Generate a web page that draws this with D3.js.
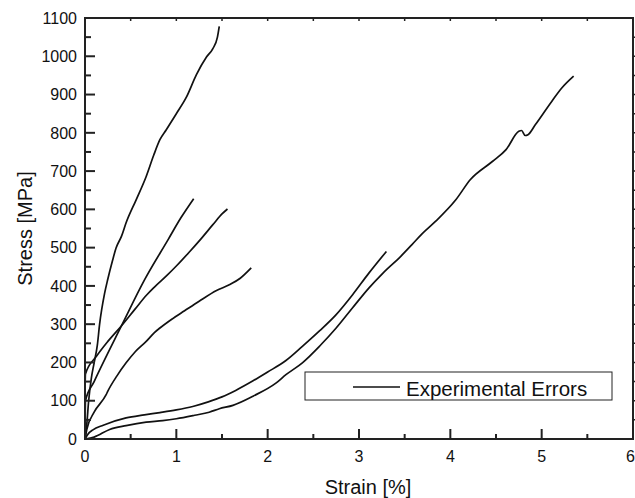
<!DOCTYPE html>
<html>
<head>
<meta charset="utf-8">
<script src="https://cdn.jsdelivr.net/npm/d3@7"></script>
<style>
  html, body { margin: 0; padding: 0; background: #fff; }
  svg { display: block; }
  text { font-family: "Liberation Sans", Arial, sans-serif; fill: #111; }
</style>
</head>
<body>
<svg id="chart" width="635" height="498"></svg>
<script>
// ---- data (strain %, stress MPa) ----
const xTicks = [0, 1, 2, 3, 4, 5, 6];
const yTicks = [0, 100, 200, 300, 400, 500, 600, 700, 800, 900, 1000, 1100];
const legendLabel = "Experimental Errors";
const xLabel = "Strain [%]";
const yLabel = "Stress [MPa]";

const curveA = [[0,0],[0.02,40],[0.04,100],[0.07,160],[0.10,199],[0.135,245],[0.16,300],[0.215,381],[0.25,418],[0.30,465],[0.34,499],[0.40,530],[0.45,565],[0.56,625],[0.67,686],[0.75,740],[0.82,782],[0.89,808],[1.0,850],[1.11,893],[1.22,952],[1.33,998],[1.40,1020],[1.45,1050],[1.47,1078]];
const curveB = [[0,0],[0.005,100],[0.1,150],[0.4,296],[0.65,415],[0.91,521],[1.05,578],[1.19,628]];
const curveC = [[0,120],[0.005,170],[0.125,216],[0.25,255],[0.40,296],[0.55,340],[0.67,375],[0.76,397],[0.9,428],[1.0,452],[1.14,488],[1.27,523],[1.40,560],[1.50,588],[1.56,601]];
const curveD = [[0,0],[0.02,25],[0.1,70],[0.23,115],[0.25,125],[0.35,165],[0.45,199],[0.55,228],[0.67,255],[0.76,278],[0.82,290],[0.95,313],[1.09,335],[1.25,360],[1.44,388],[1.58,403],[1.70,420],[1.82,447]];
const curveE = [[0,0],[0.03,12],[0.087,24],[0.2,36],[0.45,55],[0.65,63],[0.82,69],[1.0,76],[1.18,85],[1.35,97],[1.5,110],[1.65,127],[1.84,152],[2.0,175],[2.2,205],[2.38,242],[2.57,283],[2.75,325],[2.93,377],[3.11,434],[3.30,490]];
const curveF = [[0,0],[0.1,5],[0.27,25],[0.45,35],[0.67,44],[0.85,48],[1.0,53],[1.2,62],[1.36,70],[1.47,79],[1.62,88],[1.84,112],[2.09,146],[2.2,168],[2.38,199],[2.57,243],[2.75,290],[2.93,343],[3.11,395],[3.26,433],[3.46,478],[3.58,508],[3.69,536],[3.84,569],[4.06,625],[4.22,678],[4.46,725],[4.61,756],[4.75,804],[4.78,806],[4.82,793],[4.85,795],[4.93,821],[5.11,882],[5.22,917],[5.35,948]];
const curves = [curveA, curveB, curveC, curveD, curveE, curveF];

// ---- layout ----
const L = 85, R = 633, T = 18, B = 439;
const svg = d3.select("#chart");
const x = d3.scaleLinear().domain([0, 6]).range([L, R]);
const y = d3.scaleLinear().domain([0, 1100]).range([B, T]);

const line = d3.line().x(d => x(d[0])).y(d => y(d[1])).curve(d3.curveMonotoneX);

// curves
svg.append("g").selectAll("path").data(curves).join("path")
  .attr("d", line)
  .attr("fill", "none")
  .attr("stroke", "#111")
  .attr("stroke-width", 1.7)
  .attr("stroke-linejoin", "round");

// frame
svg.append("rect")
  .attr("x", L).attr("y", T).attr("width", R - L).attr("height", B - T)
  .attr("fill", "none").attr("stroke", "#222").attr("stroke-width", 2);

const tickColor = "#222";
// bottom axis: inward ticks
const xMinor = d3.range(0.5, 6, 1);
const gB = svg.append("g");
gB.selectAll("line.maj").data(xTicks).join("line")
  .attr("x1", d => x(d)).attr("x2", d => x(d))
  .attr("y1", B).attr("y2", B - 10)
  .attr("stroke", tickColor).attr("stroke-width", 2);
gB.selectAll("line.min").data(xMinor).join("line")
  .attr("x1", d => x(d)).attr("x2", d => x(d))
  .attr("y1", B).attr("y2", B - 5)
  .attr("stroke", tickColor).attr("stroke-width", 2);
gB.selectAll("text").data(xTicks).join("text")
  .attr("x", d => d === 6 ? 635 : x(d)).attr("y", 462)
  .attr("text-anchor", d => d === 6 ? "end" : "middle")
  .attr("font-size", "16px")
  .text(d => d);

// left axis
const yMinor = d3.range(50, 1100, 100);
const gL = svg.append("g");
gL.selectAll("line.maj").data(yTicks).join("line")
  .attr("x1", L).attr("x2", L + 10)
  .attr("y1", d => y(d)).attr("y2", d => y(d))
  .attr("stroke", tickColor).attr("stroke-width", 2);
gL.selectAll("line.min").data(yMinor).join("line")
  .attr("x1", L).attr("x2", L + 6)
  .attr("y1", d => y(d)).attr("y2", d => y(d))
  .attr("stroke", tickColor).attr("stroke-width", 2);
gL.selectAll("text").data(yTicks).join("text")
  .attr("x", 77).attr("y", d => y(d))
  .attr("dy", "0.36em")
  .attr("text-anchor", "end")
  .attr("font-size", "16px")
  .text(d => d);

// top axis small ticks
const xAll = d3.range(0.5, 6, 0.5);
svg.append("g").selectAll("line").data(xAll).join("line")
  .attr("x1", d => x(d)).attr("x2", d => x(d))
  .attr("y1", T).attr("y2", T + 3)
  .attr("stroke", tickColor).attr("stroke-width", 1.5);

// right axis small ticks (outward)
const yAll = d3.range(50, 1100, 50);
svg.append("g").selectAll("line").data(yAll).join("line")
  .attr("x1", R).attr("x2", R + 3)
  .attr("y1", d => y(d)).attr("y2", d => y(d))
  .attr("stroke", tickColor).attr("stroke-width", 1.5);

// axis titles
svg.append("text")
  .attr("x", 368).attr("y", 494)
  .attr("text-anchor", "middle")
  .attr("font-size", "20px")
  .text(xLabel);
svg.append("text")
  .attr("transform", `translate(32,${(T + B) / 2}) rotate(-90)`)
  .attr("text-anchor", "middle")
  .attr("font-size", "20px")
  .text(yLabel);

// legend
const lg = svg.append("g");
lg.append("rect")
  .attr("x", 305).attr("y", 372).attr("width", 307).attr("height", 28)
  .attr("fill", "#fff").attr("stroke", "#222").attr("stroke-width", 1);
lg.append("line")
  .attr("x1", 353).attr("x2", 400).attr("y1", 387).attr("y2", 387)
  .attr("stroke", "#111").attr("stroke-width", 1.5);
lg.append("text")
  .attr("x", 406).attr("y", 396)
  .attr("font-size", "20.5px")
  .text(legendLabel);
</script>
</body>
</html>
